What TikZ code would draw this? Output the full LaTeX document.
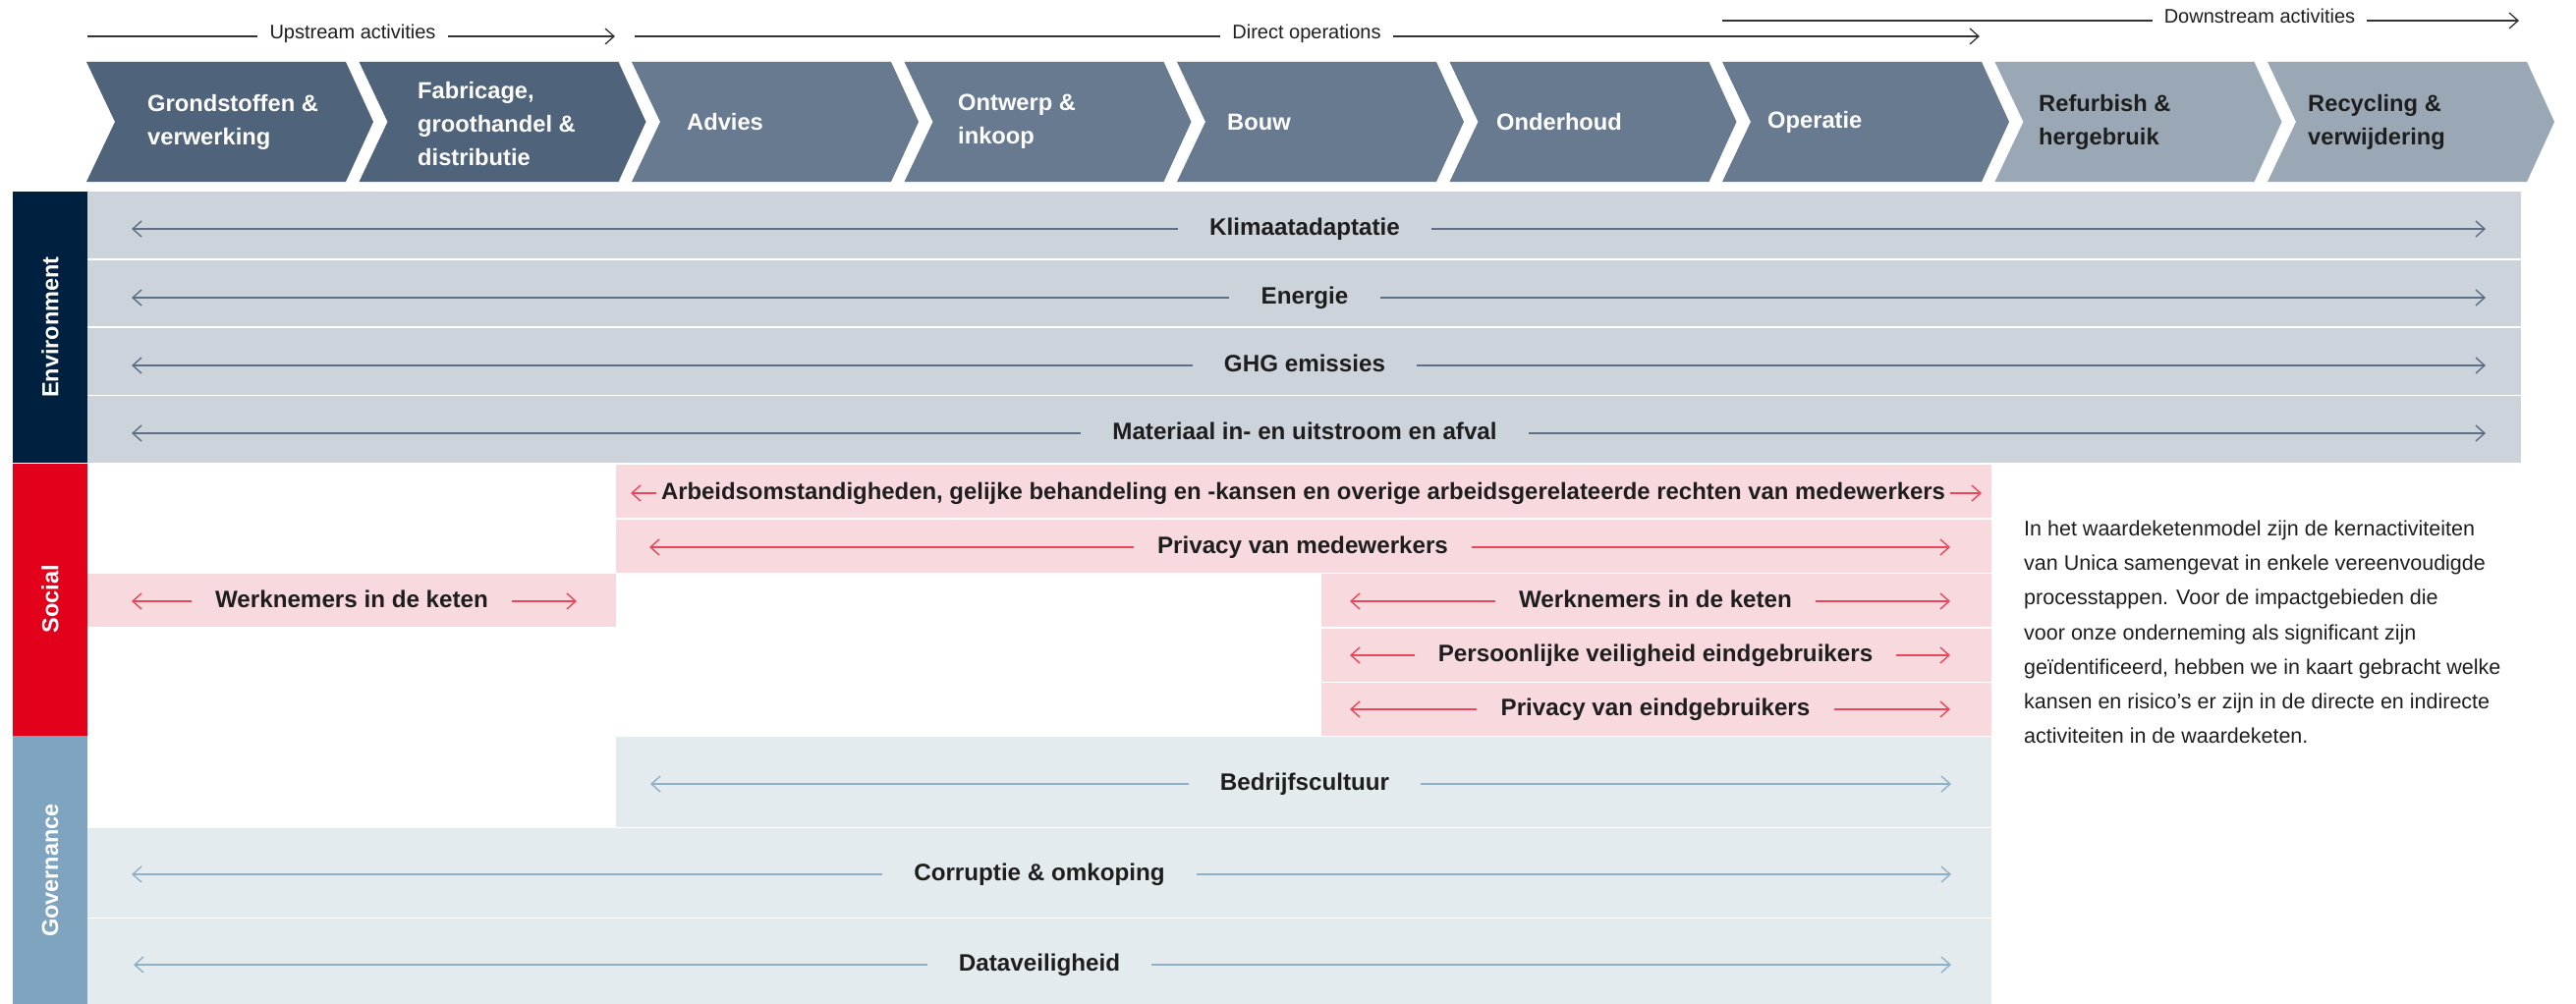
\documentclass[tikz,border=0pt]{standalone}
\usepackage{fontspec}
\setmainfont{Liberation Sans}
\usetikzlibrary{arrows.meta}
\definecolor{chevA}{HTML}{4F637A}
\definecolor{chevB}{HTML}{687A8F}
\definecolor{chevC}{HTML}{9AA8B6}
\definecolor{envrow}{HTML}{CCD3DB}
\definecolor{envlab}{HTML}{00203F}
\definecolor{envarr}{HTML}{5B6F86}
\definecolor{soclab}{HTML}{E2001A}
\definecolor{socrow}{HTML}{F8D9DD}
\definecolor{socarr}{HTML}{E8475C}
\definecolor{govlab}{HTML}{7FA4BF}
\definecolor{govrow}{HTML}{E3EBEF}
\definecolor{govarr}{HTML}{8EB0C8}
\definecolor{txt}{HTML}{1E1E1E}
\definecolor{toparr}{HTML}{333333}
\newcommand\chevshape[2]{\fill[#2] (#1,63) -- ++(264,0) -- ++(28,61) -- ++(-28,61) -- ++(-264,0) -- ++(29,-61) -- cycle;}
\newcommand\impact[7]{%
  \node[rowlbl,#2lbl] (#1) at (#3,#4+4) {#7};
  \coordinate (#1-l) at (#5,#4);
  \coordinate (#1-r) at (#6,#4);
  \draw[#2line] (#1.west |- #1-l) -- (#1-l);
  \draw[#2line] (#1.east |- #1-r) -- (#1-r);}
\begin{document}
\begin{tikzpicture}[x=1pt,y=-1pt,
  barb/.style={-{Straight Barb[length=9pt,width=16pt]}},
  chevtxt/.style={anchor=west, align=left, inner sep=0pt, text=white,
    font=\fontsize{23.7}{34}\selectfont\bfseries},
  toplbl/.style={anchor=mid, inner xsep=12pt, inner ysep=0pt, text=txt,
    font=\fontsize{20}{24}\selectfont},
  topline/.style={draw=toparr, line width=1.3pt},
  rowlbl/.style={anchor=mid, inner ysep=0pt, text=txt,
    font=\fontsize{24.2}{28}\selectfont\bfseries},
  envlbl/.style={inner xsep=32pt},
  soclbl/.style={inner xsep=24pt},
  govlbl/.style={inner xsep=32pt},
  tightlbl/.style={inner xsep=5pt, font=\fontsize{23.9}{28}\selectfont\bfseries},
  envline/.style={draw=envarr, line width=1.4pt, barb},
  socline/.style={draw=socarr, line width=1.4pt, barb},
  tightline/.style={draw=socarr, line width=1.4pt, barb},
  govline/.style={draw=govarr, line width=1.4pt, barb},
  vlab/.style={rotate=90, text=white, font=\fontsize{23.5}{27}\selectfont\bfseries},
  para/.style={anchor=north west, align=left, inner sep=0pt, text=txt,
    font=\fontsize{21.5}{35.1}\selectfont}
]
\useasboundingbox (0,0) rectangle (2622,1022);
\fill[white] (0,0) rectangle (2622,1022);

% ---- top spans ----
\node[toplbl] (up) at (359,37) {Upstream activities};
\coordinate (up0) at (89,37); \coordinate (up1) at (626,37);
\draw[topline] (up0) -- (up.mid west);
\draw[topline, barb] (up.mid east) -- (up1);

\node[toplbl] (dir) at (1330,37) {Direct operations};
\coordinate (dir0) at (646,37); \coordinate (dir1) at (2015,37);
\draw[topline] (dir0) -- (dir.mid west);
\draw[topline, barb] (dir.mid east) -- (dir1);

\node[toplbl] (down) at (2300,21) {Downstream activities};
\coordinate (down0) at (1753,21); \coordinate (down1) at (2564,21);
\draw[topline] (down0) -- (down.mid west);
\draw[topline, barb] (down.mid east) -- (down1);

% ---- chevrons ----
\chevshape{88}{chevA}
\chevshape{365.5}{chevA}
\chevshape{643}{chevB}
\chevshape{920.5}{chevB}
\chevshape{1198}{chevB}
\chevshape{1475.5}{chevB}
\chevshape{1753}{chevB}
\chevshape{2030.5}{chevC}
\chevshape{2308}{chevC}
\node[chevtxt] (c1) at (150,124) {Grondstoffen \&\\verwerking};
\node[chevtxt] (c2) at (425,126) {Fabricage,\\groothandel \&\\distributie};
\node[chevtxt] (c3) at (699,124) {Advies};
\node[chevtxt] (c4) at (975,124) {Ontwerp \&\\inkoop};
\node[chevtxt] (c5) at (1249,124) {Bouw};
\node[chevtxt] (c6) at (1523,124) {Onderhoud};
\node[chevtxt] (c7) at (1799,124) {Operatie};
\node[chevtxt, text=txt] (c8) at (2075,124) {Refurbish \&\\hergebruik};
\node[chevtxt, text=txt] (c9) at (2349,124) {Recycling \&\\verwijdering};

% ---- Environment ----
\fill[envlab] (13,195) rectangle (88.5,471);
\node[vlab] (env) at (51,333) {Environment};
\fill[envrow] (89,195) rectangle (2566,263);
\fill[envrow] (89,264.5) rectangle (2566,332);
\fill[envrow] (89,333.5) rectangle (2566,401.5);
\fill[envrow] (89,403) rectangle (2566,471);
\impact{e1}{env}{1328}{233}{134}{2530}{Klimaatadaptatie}
\impact{e2}{env}{1328}{303}{134}{2530}{Energie}
\impact{e3}{env}{1328}{372}{134}{2530}{GHG emissies}
\impact{e4}{env}{1328}{441}{134}{2530}{Materiaal in- en uitstroom en afval}

% ---- Social ----
\fill[soclab] (13,472) rectangle (88.5,748.5);
\node[vlab] (soc) at (51,610) {Social};
\fill[socrow] (627,473) rectangle (2027,527);
\fill[socrow] (627,528.5) rectangle (2027,582.5);
\fill[socrow] (89,584) rectangle (627,638);
\fill[socrow] (1345,584) rectangle (2027,638);
\fill[socrow] (1345,639.5) rectangle (2027,693.5);
\fill[socrow] (1345,695) rectangle (2027,748.5);
\impact{s1}{tight}{1326.5}{502}{642}{2017}{Arbeidsomstandigheden, gelijke behandeling en -kansen en overige arbeidsgerelateerde rechten van medewerkers}
\impact{s2}{soc}{1326}{557}{661}{1985}{Privacy van medewerkers}
\impact{s3}{soc}{358}{612}{134}{587}{Werknemers in de keten}
\impact{s4}{soc}{1685}{612}{1374}{1985}{Werknemers in de keten}
\impact{s5}{soc}{1685}{667}{1374}{1985}{Persoonlijke veiligheid eindgebruikers}
\impact{s6}{soc}{1685}{722}{1374}{1985}{Privacy van eindgebruikers}

% ---- Governance ----
\fill[govlab] (13,749) rectangle (88.5,1022);
\node[vlab] (gov) at (51,886) {Governance};
\fill[govrow] (627,750) rectangle (2027,841.5);
\fill[govrow] (89,843) rectangle (2027,933.5);
\fill[govrow] (89,935) rectangle (2027,1022);
\impact{g1}{gov}{1328}{798}{662}{1986}{Bedrijfscultuur}
\impact{g2}{gov}{1058}{890}{134}{1986}{Corruptie \& omkoping}
\impact{g3}{gov}{1058}{982}{136}{1986}{Dataveiligheid}

% ---- paragraph ----
\node[para] (p) at (2060,530) {In het waardeketenmodel zijn de kernactiviteiten\\van Unica samengevat in enkele vereenvoudigde\\processtappen. Voor de impactgebieden die\\voor onze onderneming als significant zijn\\geïdentificeerd, hebben we in kaart gebracht welke\\kansen en risico’s er zijn in de directe en indirecte\\activiteiten in de waardeketen.};
\end{tikzpicture}
\end{document}
